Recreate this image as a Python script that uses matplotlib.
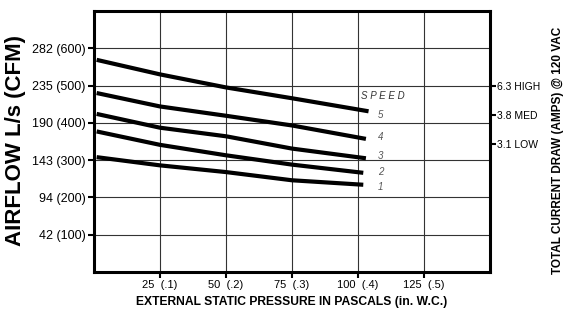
import matplotlib
matplotlib.use("Agg")
import matplotlib.pyplot as plt

plt.rcParams['font.family'] = ['Liberation Sans', 'DejaVu Sans']

# ---- data (x in Pa, y in CFM) ----
pressure = [1, 25, 50, 75]
speed_5 = [569, 530, 495, 466]
speed_4 = [480, 444, 419, 393]
speed_3 = [424, 387, 364, 331]
speed_2 = [377, 341, 313, 288]
speed_1 = [308, 286, 268, 246]
end_x = [104, 103, 103, 102, 102]          # last point of speeds 5..1
end_y = [431, 357, 305, 266, 234]
speeds = ['5', '4', '3', '2', '1']
label_y = [420, 362, 310, 268, 227]

y_ticks = [100, 200, 300, 400, 500, 600]
y_labels = ['42 (100)', '94 (200)', '143 (300)', '190 (400)', '235 (500)', '282 (600)']
x_ticks = [25, 50, 75, 100, 125]
x_labels = ['25  (.1)', '50  (.2)', '75  (.3)', '100  (.4)', '125  (.5)']
amp_ticks = [500, 421, 344]
amp_labels = ['6.3 HIGH', '3.8 MED', '3.1 LOW']

fig = plt.figure(figsize=(5.65, 3.16), dpi=100)
ax = fig.add_axes([94/565, 1-272/316, (490-94)/565, (272-11)/316])

curves = [speed_5, speed_4, speed_3, speed_2, speed_1]
for ys, ex, ey in zip(curves, end_x, end_y):
    ax.plot(pressure + [ex], ys + [ey], color='black', lw=3,
            solid_capstyle='butt', solid_joinstyle='round')

for s, ly in zip(speeds, label_y):
    ax.text(108.5, ly, s, fontsize=7, style='italic', color='#555555', ha='center', va='center')
ax.text(109.5, 471, 'S P E E D', fontsize=7, style='italic', color='#333333', ha='center', va='center')

ax.set_xlim(0, 150)
ax.set_ylim(0, 700)
ax.set_xticks(x_ticks)
ax.set_xticklabels(x_labels, fontsize=8)
ax.set_yticks(y_ticks)
ax.set_yticklabels(y_labels, fontsize=9)
ax.grid(True, color='#333333', lw=0.8)
ax.set_axisbelow(True)
ax.tick_params(axis='both', length=4, width=1.5, direction='out', pad=2)
for sp in ax.spines.values():
    sp.set_linewidth(2.2)

ax2 = ax.twinx()
ax2.set_ylim(0, 700)
ax2.set_yticks(amp_ticks)
ax2.set_yticklabels(amp_labels, fontsize=7.5)
ax2.tick_params(axis='y', length=4, width=1.5, direction='out', pad=1)
for sp in ax2.spines.values():
    sp.set_visible(False)

ax.set_xlabel('EXTERNAL STATIC PRESSURE IN PASCALS (in. W.C.)', fontsize=8.7,
              fontweight='bold', labelpad=4)
fig.text(16/565, 1-141/316, 'AIRFLOW L/s (CFM)', rotation=90, fontsize=16,
         fontweight='bold', ha='center', va='center')
fig.text(558/565, 1-150/316, 'TOTAL CURRENT DRAW (AMPS) @ 120 VAC', rotation=90,
         fontsize=8.5, fontweight='bold', ha='center', va='center')

fig.savefig('out.png', dpi=100)
